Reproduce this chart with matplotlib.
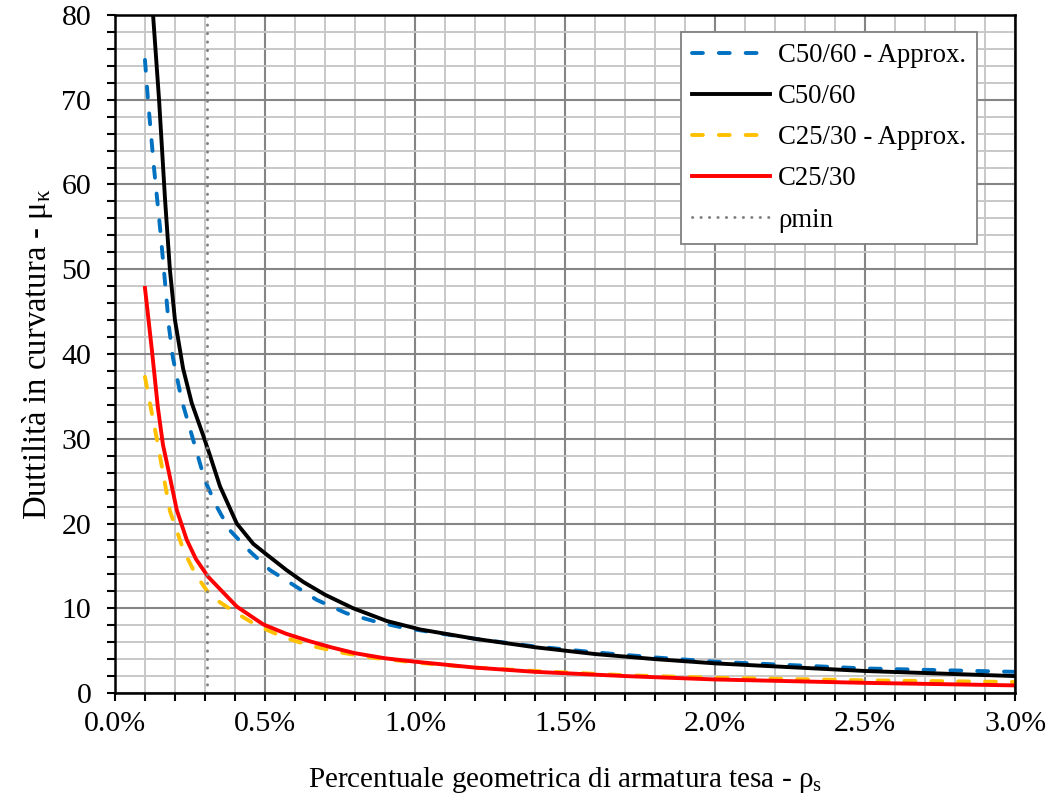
import matplotlib
matplotlib.use("Agg")
import matplotlib.pyplot as plt
from matplotlib.ticker import MultipleLocator, FuncFormatter

plt.rcParams['font.family'] = ['Liberation Serif', 'DejaVu Serif']
plt.rcParams['mathtext.fontset'] = 'custom'
plt.rcParams['mathtext.rm'] = 'Liberation Serif'
plt.rcParams['mathtext.it'] = 'Liberation Serif:italic'

# reinforcement ratio [%] and curvature ductility
rho_c50 = [0.10, 0.127, 0.147, 0.167, 0.183, 0.20, 0.227, 0.256, 0.294, 0.317, 0.35, 0.406,
           0.461, 0.50, 0.572, 0.628, 0.70, 0.794, 0.906, 1.017, 1.20, 1.40, 1.60, 1.80,
           2.00, 2.50, 3.00]
mu_c50 = [93, 80, 70, 58.2, 50, 44, 38.3, 34.2, 30.4, 28.0, 24.4, 20.0,
          17.6, 16.5, 14.5, 13.1, 11.6, 10.0, 8.5, 7.5, 6.4, 5.4, 4.6, 4.0,
          3.5, 2.6, 2.0]

rho_c50_app = [0.10, 0.11, 0.13, 0.15, 0.167, 0.18, 0.193, 0.222, 0.267, 0.294, 0.306, 0.339,
               0.383, 0.45, 0.517, 0.606, 0.672, 0.772, 0.861, 0.961, 1.20, 1.40, 1.60, 1.80,
               2.00, 2.50, 3.00]
mu_c50_app = [74.7, 70, 62, 55, 48.4, 43.2, 39.6, 34.6, 29.1, 25.8, 24.6, 22.0,
              19.2, 16.7, 14.5, 12.5, 11.0, 9.4, 8.5, 7.7, 6.4, 5.5, 4.8, 4.2,
              3.7, 2.9, 2.5]

rho_c25_app = [0.10, 0.123, 0.14, 0.16, 0.183, 0.228, 0.267, 0.306, 0.35, 0.406, 0.472, 0.561,
               0.65, 0.75, 0.85, 1.00, 1.20, 1.40, 1.70, 2.00, 2.50, 3.00]
mu_c25_app = [37.3, 33, 29.9, 26, 21.5, 16.9, 14.1, 12.1, 10.7, 9.4, 8.0, 6.6,
              5.6, 4.8, 4.2, 3.6, 3.0, 2.6, 2.1, 1.8, 1.5, 1.3]

rho_c25 = [0.10, 0.123, 0.143, 0.16, 0.18, 0.206, 0.239, 0.27, 0.311, 0.406, 0.494, 0.57,
           0.65, 0.72, 0.80, 0.90, 1.00, 1.20, 1.40, 1.70, 2.00, 2.50, 3.00]
mu_c25 = [47.8, 40.5, 33.7, 29.3, 26.0, 21.6, 18.1, 15.8, 13.7, 10.2, 8.1, 7.0,
          6.1, 5.4, 4.7, 4.1, 3.7, 3.0, 2.5, 2.0, 1.6, 1.2, 0.9]

rho_min = 0.307

fig = plt.figure(figsize=(10.46, 8.05), dpi=100)
ax = fig.add_axes([0.1099, 0.1391, 0.8605, 0.8423])

ax.set_axisbelow(True)
ax.xaxis.set_major_locator(MultipleLocator(0.5))
ax.xaxis.set_minor_locator(MultipleLocator(0.1))
ax.yaxis.set_major_locator(MultipleLocator(10))
ax.yaxis.set_minor_locator(MultipleLocator(2))
ax.grid(which='minor', color='#c8c8c8', linewidth=1.4)
ax.grid(which='major', color='#858585', linewidth=1.5)

lw = 2.8
dash = dict(dashes=(2.8, 4.1), dash_capstyle='round')
ax.plot(rho_c50_app, mu_c50_app, color='#0070C0', lw=lw, label='C50/60 - Approx.', **dash)
ax.plot(rho_c50, mu_c50, color='black', lw=lw, label='C50/60')
ax.plot(rho_c25_app, mu_c25_app, color='#FFC000', lw=lw, label='C25/30 - Approx.', **dash)
ax.plot(rho_c25, mu_c25, color='#FF0000', lw=lw, label='C25/30')
ax.axvline(rho_min, color='#808080', lw=2.1, linestyle=(0, (0.1, 2.8)),
           dash_capstyle='round', label='ρmin')

ax.set_xlim(0, 3.0)
ax.set_ylim(0, 80)
ax.xaxis.set_major_formatter(FuncFormatter(lambda v, p: '{:.1f}%'.format(v)))

for s in ax.spines.values():
    s.set_linewidth(1.8)
ax.tick_params(which='both', direction='out', length=6, width=1.5, labelsize=21.5)
ax.tick_params(axis='x', pad=7)
ax.tick_params(axis='y', pad=11)

ax.set_xlabel('Percentuale geometrica di armatura tesa - ρ$_{\\mathrm{s}}$', fontsize=21, labelpad=20)
ax.set_ylabel('Duttilità in curvatura - μ$_{\\mathrm{κ}}$', fontsize=23.5, labelpad=5)

leg = ax.legend(loc='upper right', bbox_to_anchor=(0.958, 0.975), borderaxespad=0,
                fontsize=19.3, handlelength=2.9, handletextpad=0.3, labelspacing=0.6,
                fancybox=False, framealpha=1, edgecolor='#808080', borderpad=0.42)
leg.get_frame().set_linewidth(1.3)

fig.savefig('out.png', dpi=100)
